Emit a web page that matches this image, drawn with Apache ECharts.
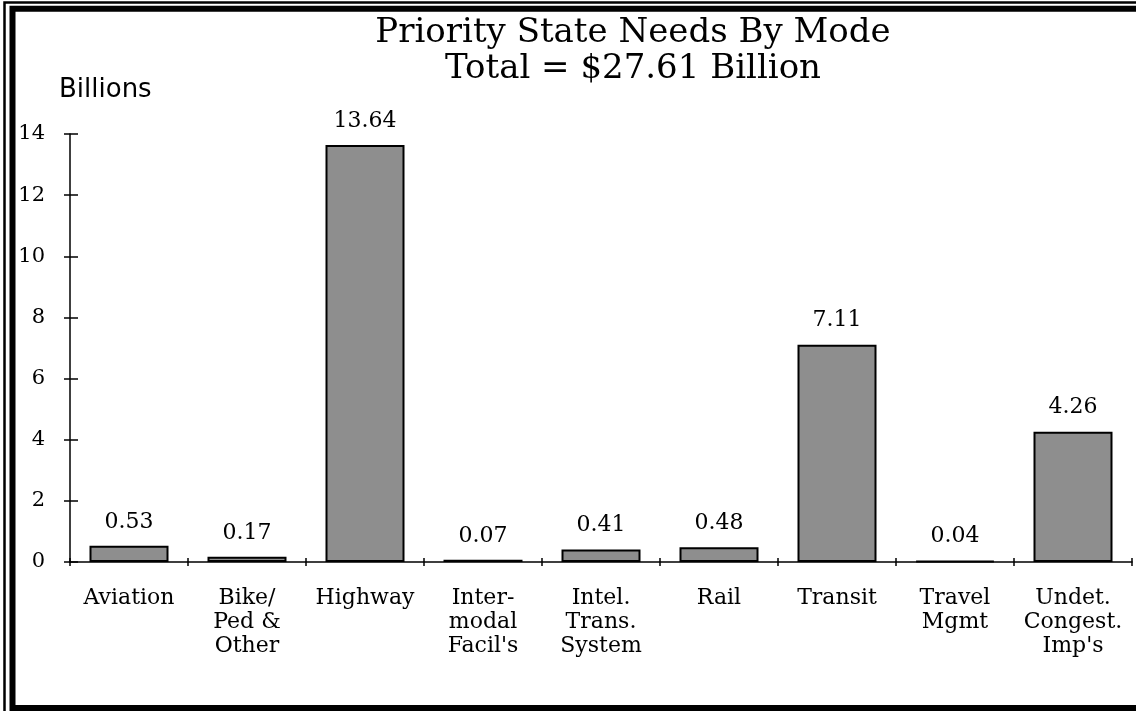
<!DOCTYPE html>
<html>
<head>
<meta charset="utf-8">
<title>Priority State Needs By Mode</title>
<script src="https://cdn.jsdelivr.net/npm/echarts@6/dist/echarts.min.js"></script>
<style>
  html, body { margin: 0; padding: 0; background: #fff; }
  #chart { width: 1136px; height: 711px; }
</style>
</head>
<body>
<div id="chart"></div>
<script>
// chart data
const modes = ['Aviation', 'Bike/\nPed &\nOther', 'Highway', 'Inter-\nmodal\nFacil\'s',
  'Intel.\nTrans.\nSystem', 'Rail', 'Transit', 'Travel\nMgmt', 'Undet.\nCongest.\nImp\'s'];
const needs = [0.53, 0.17, 13.64, 0.07, 0.41, 0.48, 7.11, 0.04, 4.26];
const yTicks = [0, 2, 4, 6, 8, 10, 12, 14];

const serif = 'DejaVu Serif';
const yMin = yTicks[0], yMax = yTicks[yTicks.length - 1], yStep = yTicks[1] - yTicks[0];

const chart = echarts.init(document.getElementById('chart'));

// ticks cross the axis line, so each axis is drawn twice (inside + outside ticks)
chart.setOption({
  animation: false,
  backgroundColor: '#fff',
  title: {
    text: 'Priority State Needs By Mode\nTotal = $27.61 Billion',
    left: 628, top: 10, textAlign: 'center',
    textStyle: { fontFamily: serif, fontSize: 34, fontWeight: 'normal', color: '#000', lineHeight: 36 }
  },
  grid: { left: 70, right: 4, top: 134, bottom: 149 },
  xAxis: [{
    type: 'category', position: 'bottom', data: modes,
    axisLine: { show: true, lineStyle: { color: '#000', width: 1.5 } },
    axisTick: { show: true, inside: false, length: 4, lineStyle: { color: '#000', width: 1.5 } },
    axisLabel: { fontFamily: serif, fontSize: 22, color: '#000', lineHeight: 24, margin: 24, interval: 0 }
  }, {
    type: 'category', position: 'bottom', data: modes,
    axisLine: { show: false },
    axisTick: { show: true, inside: true, length: 4, lineStyle: { color: '#000', width: 1.5 } },
    axisLabel: { show: false }
  }],
  yAxis: [{
    type: 'value', position: 'left', min: yMin, max: yMax, interval: yStep,
    splitLine: { show: false },
    axisLine: { show: true, lineStyle: { color: '#000', width: 1.5 } },
    axisTick: { show: true, inside: true, length: 8, lineStyle: { color: '#000', width: 1.5 } },
    axisLabel: { fontFamily: serif, fontSize: 21, color: '#000', margin: 25 }
  }, {
    type: 'value', position: 'left', min: yMin, max: yMax, interval: yStep,
    splitLine: { show: false },
    axisLine: { show: false },
    axisTick: { show: true, inside: false, length: 6, lineStyle: { color: '#000', width: 1.5 } },
    axisLabel: { show: false }
  }],
  series: [{
    type: 'bar',
    data: needs,
    barWidth: 79,
    itemStyle: { color: '#8e8e8e', borderColor: '#000', borderWidth: 2 },
    label: {
      show: true, position: 'top', distance: 13,
      fontFamily: serif, fontSize: 22, color: '#000',
      formatter: p => p.value.toFixed(2)
    }
  }],
  graphic: [
    { type: 'text', left: 59, top: 77,
      style: { text: 'Billions', font: '26px "DejaVu Sans"', fill: '#000' } },
    // double frame around the page (right side runs off the picture)
    { type: 'rect', shape: { x: 4.5, y: 2.5, width: 2000, height: 2000 },
      style: { fill: 'none', stroke: '#000', lineWidth: 2.5 } },
    { type: 'rect', shape: { x: 12.5, y: 8.7, width: 2000, height: 699.3 },
      style: { fill: 'none', stroke: '#000', lineWidth: 6 } }
  ]
});
</script>
</body>
</html>
